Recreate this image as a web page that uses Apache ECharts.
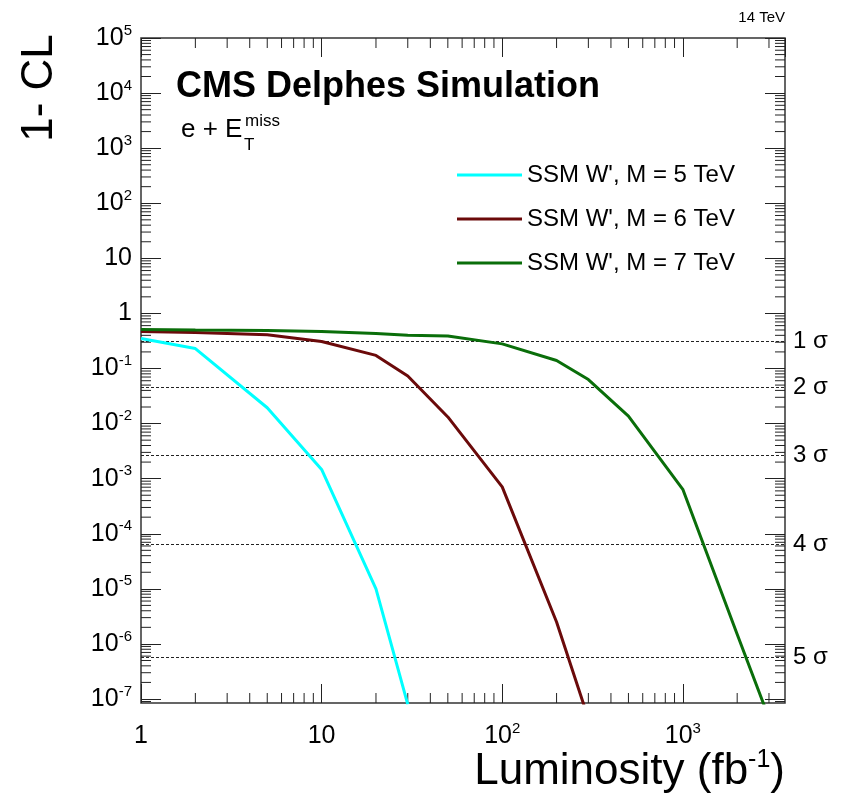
<!DOCTYPE html>
<html>
<head>
<meta charset="utf-8">
<script src="https://cdn.jsdelivr.net/npm/echarts@6/dist/echarts.min.js"></script>
<style>
  html, body { margin: 0; padding: 0; background: #fff; }
  #chart { width: 849px; height: 798px; }
</style>
</head>
<body>
<div id="chart"></div>
<script>
// luminosity points (fb^-1) and 1-CL values
var lumi5 = [1, 2, 5, 10, 20, 30];
var cl5   = [0.35, 0.23, 0.0194, 0.00147, 1.0e-5, 8e-8];

var lumi6 = [1, 2, 5, 10, 20, 30, 50, 100, 200, 300];
var cl6   = [0.47, 0.45, 0.41, 0.31, 0.173, 0.073, 0.0132, 7.1e-4, 2.5e-6, 4.4e-8];

var lumi7 = [1, 2, 5, 10, 20, 30, 50, 100, 200, 300, 500, 1000, 2000, 3000];
var cl7   = [0.51, 0.50, 0.49, 0.47, 0.43, 0.40, 0.39, 0.28, 0.14, 0.063, 0.0137, 6.4e-4, 1.5e-6, 4.5e-8];

var seriesNames = ["SSM W', M = 5 TeV", "SSM W', M = 6 TeV", "SSM W', M = 7 TeV"];
var seriesColors = ['#00ffff', '#6b0a0a', '#0a6e0a'];

// significance levels drawn as dashed lines
var sigmaValues = [0.3173, 0.0455, 0.0027, 6.334e-5, 5.733e-7];
var sigmaLabels = ['1 σ', '2 σ', '3 σ', '4 σ', '5 σ'];

// axis ranges
var xMin = 1, xMax = 3680;
var yMin = 1e-7, yMax = 1e5;
var yMinFrame = 8.46e-8;   // frame bottom sits a little below 10^-7

// ROOT style minor ticks at 2..9 of every decade
var minorSteps = [2, 3, 4, 5, 6, 7, 8, 9];
var xMinor = [], yMinor = [];
for (var d = 0; d <= 3; d++) {
  minorSteps.forEach(function (k) {
    var v = k * Math.pow(10, d);
    if (v < xMax) xMinor.push(v);
  });
}
for (var e = -8; e <= 4; e++) {
  minorSteps.forEach(function (k) {
    var v = k * Math.pow(10, e);
    if (v > yMinFrame && v < yMax) yMinor.push(v);
  });
}

var FONT = '"Liberation Sans", Arial, Helvetica, sans-serif';

function pairs(xs, ys) {
  return xs.map(function (x, i) { return [x, ys[i]]; });
}

function powLabel(v) {
  var l = Math.log10(v);
  var n = Math.round(l);
  if (Math.abs(l - n) > 1e-6) return '';
  if (n === 0) return '{b|1}';
  if (n === 1) return '{b|10}';
  return '{b|10}{sup|' + n + '}';
}

var labelRich = {
  b: { fontSize: 25, fontFamily: FONT, color: '#000', lineHeight: 30 },
  sup: { fontSize: 15, fontFamily: FONT, color: '#000', lineHeight: 14, verticalAlign: 'top' }
};

var tickStyle = { color: '#222', width: 1 };

var chart = echarts.init(document.getElementById('chart'));

var lineSeries = [
  { x: lumi5, y: cl5 },
  { x: lumi6, y: cl6 },
  { x: lumi7, y: cl7 }
].map(function (s, i) {
  return {
    name: seriesNames[i],
    type: 'line',
    xAxisIndex: 0,
    yAxisIndex: 0,
    data: pairs(s.x, s.y),
    symbol: 'none',
    showSymbol: false,
    z: 5,
    lineStyle: { color: seriesColors[i], width: 3 },
    itemStyle: { color: seriesColors[i] }
  };
});

// dashed sigma lines ride on the first series
lineSeries[0].markLine = {
  silent: true,
  symbol: 'none',
  precision: 10,
  z: 2,
  lineStyle: { color: '#222', width: 1, type: [3, 2] },
  label: {
    position: 'end',
    distance: 8,
    color: '#000',
    fontSize: 24,
    fontFamily: FONT
  },
  data: sigmaValues.map(function (v, i) {
    return { yAxis: v, label: { formatter: sigmaLabels[i] } };
  })
};

option = {
  animation: false,
  backgroundColor: '#fff',
  grid: [
    { left: 141, right: 64, top: 38, bottom: 95, show: true, borderColor: '#333', borderWidth: 1.5, backgroundColor: 'transparent' },
    { left: 141, right: 64, top: 38, bottom: 99 }
  ],
  legend: {
    data: seriesNames,
    orient: 'vertical',
    left: 452,
    top: 156,
    icon: 'rect',
    itemWidth: 65,
    itemHeight: 3,
    itemGap: 16,
    textStyle: { fontSize: 24, fontFamily: FONT, color: '#000', lineHeight: 28 }
  },
  xAxis: [
    {
      gridIndex: 0, type: 'log', logBase: 10, min: xMin, max: xMax, interval: 1, position: 'bottom',
      axisLine: { show: false },
      axisTick: { inside: true, length: 19, lineStyle: tickStyle },
      axisLabel: { margin: 18, formatter: powLabel, rich: labelRich, showMaxLabel: false },
      splitLine: { show: false }
    },
    {
      gridIndex: 0, type: 'log', logBase: 10, min: xMin, max: xMax, interval: 1, position: 'top',
      axisLine: { show: false },
      axisTick: { inside: true, length: 19, lineStyle: tickStyle },
      axisLabel: { show: false },
      splitLine: { show: false }
    },
    {
      gridIndex: 1, type: 'log', logBase: 10, min: xMin, max: xMax, show: false
    }
  ],
  yAxis: [
    {
      gridIndex: 0, type: 'log', logBase: 10, min: yMinFrame, max: yMax,
      axisLine: { show: false }, axisTick: { show: false }, axisLabel: { show: false },
      splitLine: { show: false }
    },
    {
      gridIndex: 1, type: 'log', logBase: 10, min: yMin, max: yMax, interval: 1, position: 'left',
      axisLine: { show: false },
      axisTick: { inside: true, length: 20, lineStyle: tickStyle },
      axisLabel: { margin: 9, formatter: powLabel, rich: labelRich },
      splitLine: { show: false }
    },
    {
      gridIndex: 1, type: 'log', logBase: 10, min: yMin, max: yMax, interval: 1, position: 'right',
      axisLine: { show: false },
      axisTick: { inside: true, length: 20, lineStyle: tickStyle },
      axisLabel: { show: false },
      splitLine: { show: false }
    }
  ],
  series: lineSeries.concat([
    {
      type: 'custom',
      xAxisIndex: 0,
      yAxisIndex: 0,
      silent: true,
      data: xMinor.map(function (v) { return [v, 1]; }),
      renderItem: function (params, api) {
        var bot = api.coord([api.value(0), yMinFrame]);
        var top = api.coord([api.value(0), yMax]);
        return {
          type: 'group',
          children: [
            { type: 'line', shape: { x1: bot[0], y1: bot[1], x2: bot[0], y2: bot[1] - 10 }, style: { stroke: '#222', lineWidth: 1 } },
            { type: 'line', shape: { x1: top[0], y1: top[1], x2: top[0], y2: top[1] + 10 }, style: { stroke: '#222', lineWidth: 1 } }
          ]
        };
      }
    },
    {
      type: 'custom',
      xAxisIndex: 0,
      yAxisIndex: 0,
      silent: true,
      data: yMinor.map(function (v) { return [1, v]; }),
      renderItem: function (params, api) {
        var lft = api.coord([xMin, api.value(1)]);
        var rgt = api.coord([xMax, api.value(1)]);
        return {
          type: 'group',
          children: [
            { type: 'line', shape: { x1: lft[0], y1: lft[1], x2: lft[0] + 10, y2: lft[1] }, style: { stroke: '#222', lineWidth: 1 } },
            { type: 'line', shape: { x1: rgt[0], y1: rgt[1], x2: rgt[0] - 10, y2: rgt[1] }, style: { stroke: '#222', lineWidth: 1 } }
          ]
        };
      }
    }
  ]),
  graphic: [
    { type: 'text', x: 785, y: 18, style: { text: '14 TeV', fill: '#000', font: '15px ' + FONT, align: 'right', verticalAlign: 'middle' } },
    { type: 'text', x: 176, y: 87, style: { text: 'CMS Delphes Simulation', fill: '#000', font: 'bold 36px ' + FONT, align: 'left', verticalAlign: 'middle' } },
    { type: 'text', x: 181, y: 130, style: { text: 'e + E', fill: '#000', font: '26px ' + FONT, align: 'left', verticalAlign: 'middle' } },
    { type: 'text', x: 245, y: 121, style: { text: 'miss', fill: '#000', font: '17px ' + FONT, align: 'left', verticalAlign: 'middle' } },
    { type: 'text', x: 244, y: 145, style: { text: 'T', fill: '#000', font: '17px ' + FONT, align: 'left', verticalAlign: 'middle' } },
    { type: 'text', x: 40, y: 88, rotation: Math.PI / 2, style: { text: '1- CL', fill: '#000', font: '44px ' + FONT, align: 'center', verticalAlign: 'middle' } },
    {
      type: 'text', x: 785, y: 772,
      style: {
        text: '{a|Luminosity (fb}{s|-1}{a|)}',
        align: 'right', verticalAlign: 'middle',
        rich: {
          a: { fontSize: 44, fontFamily: FONT, fill: '#000', lineHeight: 48 },
          s: { fontSize: 25, fontFamily: FONT, fill: '#000', lineHeight: 24, verticalAlign: 'top' }
        }
      }
    }
  ]
};

chart.setOption(option);
</script>
</body>
</html>
